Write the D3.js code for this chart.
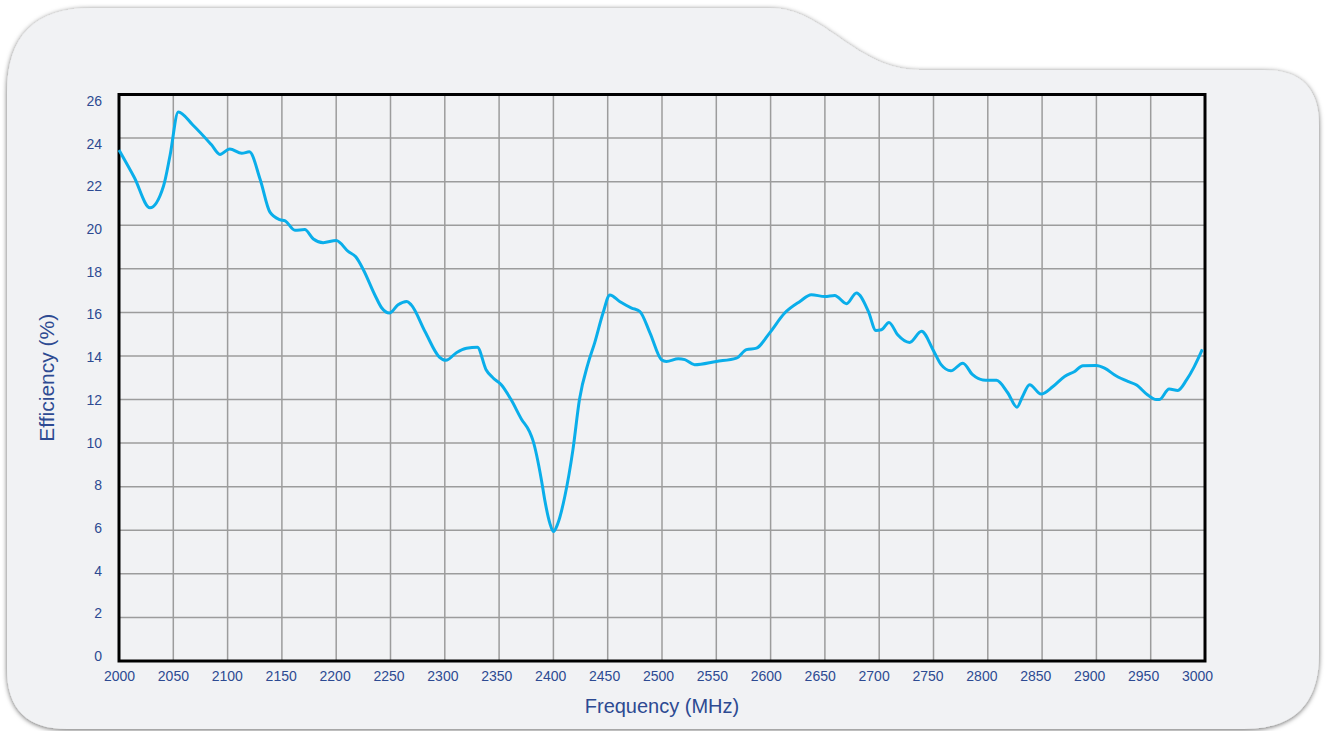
<!DOCTYPE html>
<html>
<head>
<meta charset="utf-8">
<script src="https://cdn.jsdelivr.net/npm/d3@7"></script>
<style>
  body { margin: 0; background: #fff; }
  svg { display: block; font-family: "Liberation Sans", Arial, sans-serif; }
</style>
</head>
<body>
<div id="chart-area"></div>
<script>
// Efficiency vs frequency
var freq = [2000, 2014, 2028.5, 2041, 2047, 2054.6, 2068, 2085, 2093, 2102, 2113, 2120,
    2130, 2139, 2148, 2153, 2162, 2171, 2179, 2188, 2200, 2211, 2218, 2225, 2235.6, 2242,
    2249, 2257, 2265, 2269, 2282, 2295, 2301, 2311, 2320, 2330, 2338, 2344.5, 2352, 2361,
    2370.6, 2378, 2381, 2389, 2392, 2396.7, 2400, 2404, 2410.5, 2418, 2424, 2432, 2438,
    2445.7, 2452, 2461, 2472, 2479.5, 2489, 2499.5, 2504, 2515, 2521, 2530, 2550, 2568.5,
    2577.7, 2587, 2599, 2613, 2627, 2637.5, 2650, 2659, 2670, 2679, 2690, 2697, 2702, 2709,
    2717, 2728, 2739, 2749.5, 2757, 2766, 2777, 2786, 2795.5, 2808, 2818.5, 2826.8, 2832,
    2838.5, 2849, 2860, 2870.7, 2880, 2887.5, 2900, 2907.5, 2918, 2929, 2936.6, 2947, 2955,
    2958, 2967, 2975, 2983, 2990, 2997.6];
var efficiency = [23.45, 22.2, 20.8, 21.8, 23.2, 25.2, 24.6, 23.7, 23.25, 23.5, 23.3, 23.37,
    22.1, 20.6, 20.26, 20.2, 19.77, 19.8, 19.37, 19.2, 19.3, 18.8, 18.55, 17.96, 16.8, 16.2,
    15.97, 16.35, 16.5, 16.35, 15.1, 13.95, 13.8, 14.16, 14.35, 14.4, 13.37, 12.99, 12.68, 12.0,
    11.1, 10.53, 10.15, 8.3, 7.4, 6.33, 5.94, 6.3, 7.55, 9.7, 12.0, 13.67, 14.6,
    15.97, 16.8, 16.5, 16.2, 16.05, 15.05, 13.83, 13.75, 13.87, 13.83, 13.6, 13.75, 13.9,
    14.29, 14.36, 15.05, 15.97, 16.5, 16.81, 16.73, 16.78, 16.4, 16.89, 16.05, 15.17, 15.2, 15.54,
    14.97, 14.62, 15.13, 14.29, 13.6, 13.32, 13.67, 13.14, 12.9, 12.88, 12.3, 11.65, 12.14,
    12.68, 12.25, 12.6, 13.06, 13.29, 13.55, 13.56, 13.44, 13.09, 12.83, 12.68, 12.22, 12.0,
    12.0, 12.48, 12.42, 12.9, 13.5, 14.3];
var xTicks = d3.range(2000, 3001, 50);
var yTicks = d3.range(0, 27, 2);

var data = freq.map(function(f, i){ return { f: f, v: efficiency[i] }; });

var W = 1327, H = 731;
var margin = { left: 119, right: 122, top: 94.5, bottom: 70 };
var width = W - margin.left - margin.right,
    height = H - margin.top - margin.bottom;

var svg = d3.select("#chart-area")
    .append("svg")
    .attr("width", W)
    .attr("height", H);

// drop shadow for the card
var filter = svg.append("defs").append("filter")
    .attr("id", "shadow")
    .attr("x", "-5%").attr("y", "-5%")
    .attr("width", "110%").attr("height", "110%");
filter.append("feDropShadow")
    .attr("dx", 0).attr("dy", 1)
    .attr("stdDeviation", 2.5)
    .attr("flood-color", "#000")
    .attr("flood-opacity", 0.6);

// card with the notch at top right
var card = "M7,92 Q7,8 91,8 L770,8 C825,8 855,70 920,70 L1264,70 Q1319,70 1319,125" +
    " L1319,654 Q1319,729 1244,729 L67,729 Q7,729 7,669 Z";
svg.append("path")
    .attr("d", card)
    .attr("fill", "#f1f2f4")
    .attr("filter", "url(#shadow)");

var g = svg.append("g")
    .attr("transform", "translate(" + margin.left + ", " + margin.top + ")");

var x = d3.scaleLinear().domain([2000, 3000]).range([0, width]);
var y = d3.scaleLinear().domain([0, 26]).range([height, 0]);
// tick labels in the original sit on a slightly tighter spacing than the grid
var xLabel = d3.scaleLinear().domain([2000, 3000]).range([0, width - 8]);
var yLabel = d3.scaleLinear().domain([0, 26]).range([height - 5, 6.5]);

// grid
g.append("g")
    .selectAll("line")
    .data(xTicks)
    .enter()
    .append("line")
    .attr("x1", d => x(d)).attr("x2", d => x(d))
    .attr("y1", 0).attr("y2", height)
    .attr("stroke", "#9c9c9c")
    .attr("stroke-width", 1.5);
g.append("g")
    .selectAll("line")
    .data(yTicks)
    .enter()
    .append("line")
    .attr("x1", 0).attr("x2", width)
    .attr("y1", d => y(d)).attr("y2", d => y(d))
    .attr("stroke", "#9c9c9c")
    .attr("stroke-width", 1.5);

// Y Axis labels
var yAxis = d3.axisLeft(yLabel).tickValues(yTicks).tickSize(0).tickPadding(17);
g.append("g")
    .call(yAxis)
    .call(a => a.select(".domain").remove())
    .selectAll("text")
    .attr("font-size", 14)
    .attr("fill", "#2d4a92")
    .attr("font-family", "Liberation Sans, Arial, sans-serif");

// X Axis labels
var xAxis = d3.axisBottom(xLabel).tickValues(xTicks).tickSize(0).tickPadding(10)
    .tickFormat(d3.format("d"));
g.append("g")
    .attr("transform", "translate(0, " + height + ")")
    .call(xAxis)
    .call(a => a.select(".domain").remove())
    .selectAll("text")
    .attr("font-size", 14)
    .attr("fill", "#2d4a92")
    .attr("font-family", "Liberation Sans, Arial, sans-serif");

// frame
g.append("rect")
    .attr("width", width)
    .attr("height", height)
    .attr("fill", "none")
    .attr("stroke", "#000")
    .attr("stroke-width", 3);

// curve
var line = d3.line()
    .x(d => x(d.f))
    .y(d => y(d.v))
    .curve(d3.curveMonotoneX);
g.append("path")
    .datum(data)
    .attr("d", line)
    .attr("fill", "none")
    .attr("stroke", "#0aaeea")
    .attr("stroke-width", 3)
    .attr("stroke-linejoin", "round");

// axis titles
svg.append("text")
    .attr("transform", "translate(54, " + (margin.top + height / 2) + ") rotate(-90)")
    .attr("text-anchor", "middle")
    .attr("font-size", 21)
    .attr("fill", "#2d4a92")
    .text("Efficiency (%)");
svg.append("text")
    .attr("x", margin.left + width / 2)
    .attr("y", 713)
    .attr("text-anchor", "middle")
    .attr("font-size", 20)
    .attr("fill", "#2d4a92")
    .text("Frequency (MHz)");
</script>
</body>
</html>
